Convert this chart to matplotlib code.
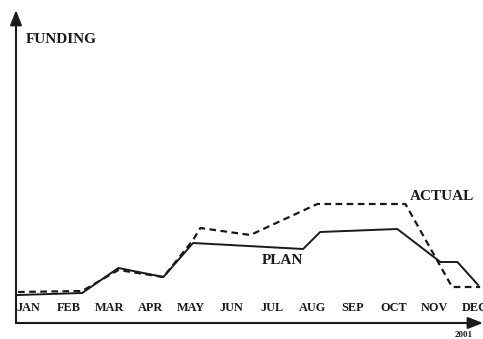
import matplotlib

matplotlib.use("Agg")
import matplotlib.pyplot as plt  # noqa: E402

# month labels sit at integer positions 0..11
MONTHS = ["JAN", "FEB", "MAR", "APR", "MAY", "JUN",
          "JUL", "AUG", "SEP", "OCT", "NOV", "DEC"]

# plan (solid) - x in month units, y in funding units
PLAN_X = [-0.25, 1.33, 2.22, 3.33, 4.06, 6.77, 7.19, 9.09, 10.15, 10.57, 11.08]
PLAN_Y = [28, 30, 55, 46, 80, 74, 91, 94, 61, 61, 38]

# actual (dashed)
ACTUAL_X = [-0.25, 1.33, 2.22, 3.33, 4.06, 4.24, 5.47, 7.12, 9.29, 10.44, 11.13]
ACTUAL_Y = [31, 32, 53, 46, 83, 95, 88, 119, 119, 36, 36]

YEAR = "2001"
INK = "#1a1a1a"
FONT = "Liberation Serif"

fig = plt.figure(figsize=(4.83, 3.39), dpi=100)
ax = fig.add_axes([16 / 483, 16 / 339, 467 / 483, 313 / 339])
ax.set_xlim(-0.3, 11.2)
ax.set_ylim(0, 313)
ax.axis("off")

ax.plot(PLAN_X, PLAN_Y, color=INK, lw=1.4)
ax.plot(ACTUAL_X, ACTUAL_Y, color=INK, lw=1.6, dashes=(3, 2))

# axes drawn as arrows
arrow = dict(arrowstyle="-|>,head_length=0.9,head_width=0.35",
             color=INK, lw=1.5, shrinkA=0, shrinkB=0)
ax.annotate("", xy=(1.0, 0), xytext=(0, 0), xycoords="axes fraction",
            arrowprops=arrow)
ax.annotate("", xy=(0, 1.0), xytext=(0, 0), xycoords="axes fraction",
            arrowprops=arrow)

for i, m in enumerate(MONTHS):
    ax.text(i, 15, m, ha="center", va="center", fontsize=8.8, fontweight="bold",
            family=FONT, color=INK)

ax.text(0.02, 0.905, "FUNDING", transform=ax.transAxes, ha="left", va="center",
        fontsize=11, fontweight="bold", family=FONT, color=INK)
ax.text(9.4, 126, "ACTUAL", ha="left", va="center", fontsize=11,
        fontweight="bold", family=FONT, color=INK)
ax.text(5.75, 62, "PLAN", ha="left", va="center", fontsize=11,
        fontweight="bold", family=FONT, color=INK)
ax.text(10.5, -12, YEAR, ha="left", va="center", fontsize=6.5, fontweight="bold",
        family=FONT, color=INK, clip_on=False)

fig.savefig("out.png", dpi=100)
